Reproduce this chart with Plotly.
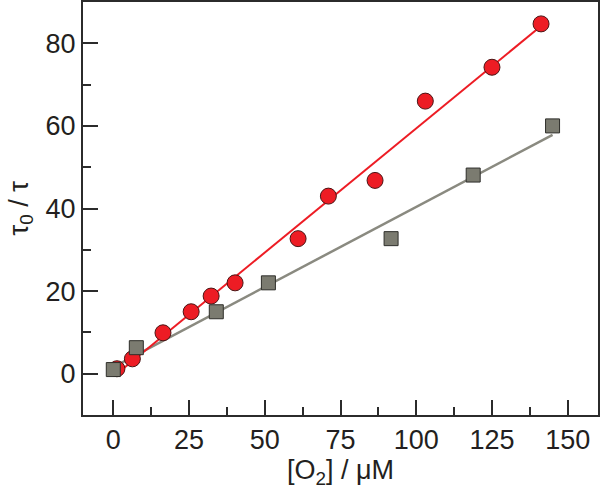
import numpy as np
import plotly.graph_objects as go

# Data
red_x = [1.2, 6.3, 16.4, 25.7, 32.3, 40.2, 61.0, 71.0, 86.4, 103.0, 125.0, 141.2]
red_y = [1.2, 3.6, 9.9, 15.0, 18.8, 22.0, 32.7, 43.0, 46.8, 66.0, 74.2, 84.7]
gray_x = [0.0, 7.6, 34.0, 51.2, 91.7, 118.8, 145.0]
gray_y = [1.0, 6.3, 15.0, 22.0, 32.7, 48.1, 60.0]

x_ticks = [0, 25, 50, 75, 100, 125, 150]
y_ticks = [0, 20, 40, 60, 80]

RED = "#ED1C24"
GRAY_FILL = "#7B7B70"
GRAY_LINE = "#8A8A80"
AX = "#2B2B2B"
FONT = "Liberation Sans, Arial, sans-serif"

def fit(xs, ys):
    m, b = np.polyfit(xs, ys, 1)
    xx = np.array([min(xs), max(xs)])
    return xx, m * xx + b

rfx, rfy = fit(red_x, red_y)
gfx, gfy = fit(gray_x, gray_y)

fig = go.Figure()
fig.add_trace(go.Scatter(x=gfx, y=gfy, mode="lines",
                         line=dict(color=GRAY_LINE, width=2.5), showlegend=False))
fig.add_trace(go.Scatter(x=rfx, y=rfy, mode="lines",
                         line=dict(color=RED, width=2), showlegend=False))
fig.add_trace(go.Scatter(x=red_x, y=red_y, mode="markers",
                         marker=dict(symbol="circle", size=16, color=RED,
                                     line=dict(color="#4A1414", width=1)),
                         showlegend=False))
fig.add_trace(go.Scatter(x=gray_x, y=gray_y, mode="markers",
                         marker=dict(symbol="square", size=14, color=GRAY_FILL,
                                     line=dict(color="#2E2E2A", width=1)),
                         showlegend=False))

axis_common = dict(showgrid=False, zeroline=False, showline=True, linecolor=AX,
                   linewidth=2, mirror=True, ticks="inside", ticklen=15,
                   tickwidth=1.5, tickcolor=AX, automargin=False,
                   tickfont=dict(family=FONT, size=27, color="#231F20"))

fig.update_xaxes(range=[-10, 160], tickvals=x_ticks, ticktext=[str(v) for v in x_ticks],
                 minor=dict(ticks="inside", ticklen=8, tickwidth=1.5, tickcolor=AX,
                            dtick=12.5, tick0=12.5, showgrid=False),
                 **axis_common)
fig.update_yaxes(range=[-10, 90], tickvals=y_ticks, ticktext=[str(v) for v in y_ticks],
                 minor=dict(ticks="inside", ticklen=8, tickwidth=1.5, tickcolor=AX,
                            dtick=10, tick0=10, showgrid=False),
                 **axis_common)

fig.add_annotation(text="[O<sub>2</sub>] / μM", xref="paper", yref="paper",
                   x=0.5, y=0, yanchor="middle", yshift=-57, showarrow=False,
                   font=dict(family=FONT, size=27, color="#231F20"))
fig.add_annotation(text="τ<sub>0</sub> / τ", xref="paper", yref="paper",
                   x=0, y=0.5, xanchor="center", xshift=-63, textangle=-90,
                   showarrow=False, font=dict(family=FONT, size=27, color="#231F20"))

fig.update_layout(width=600, height=492, plot_bgcolor="white", paper_bgcolor="white",
                  margin=dict(l=83, r=2, t=2, b=77, autoexpand=False))

fig.write_html("out.html", config={"displayModeBar": False},
               post_script="document.body.style.margin='0';document.body.style.overflow='hidden';")
